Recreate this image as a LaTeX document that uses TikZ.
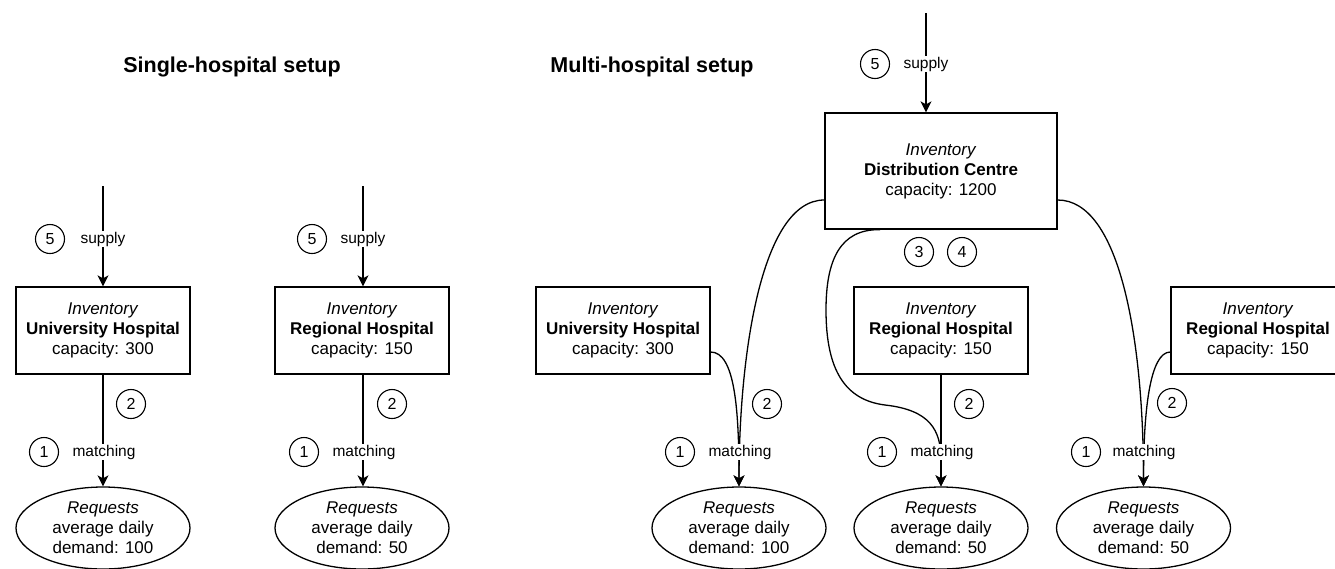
\documentclass[tikz,border=0pt]{standalone}
\usepackage{fontspec}
\setmainfont{Liberation Sans}
\usetikzlibrary{shapes.geometric,arrows.meta}
\begin{document}
\begin{tikzpicture}[x=1pt,y=-1pt,
  box/.style={draw,line width=1.3pt,minimum width=174pt,minimum height=87pt,inner sep=0pt,align=center,font=\fontsize{17}{20}\selectfont},
  req/.style={draw,ellipse,line width=1.3pt,minimum width=174pt,minimum height=82pt,inner sep=0pt,align=center,font=\fontsize{17}{20}\selectfont},
  num/.style={draw,circle,line width=1.1pt,minimum size=29pt,inner sep=0pt,font=\fontsize{16}{18}\selectfont},
  lbl/.style={fill=white,inner sep=1pt,font=\fontsize{15.5}{18}\selectfont},
  ttl/.style={font=\fontsize{21.5}{25}\selectfont\bfseries},
  flow/.style={line width=1.3pt,-{Stealth[length=11pt,width=11pt,inset=3pt]}},
]
\useasboundingbox (0,0) rectangle (1335,568);
\clip (0,0) rectangle (1335,568);

% titles
\node[ttl] (t1) at (232,67) {Single-hospital setup};
\node[ttl] (t2) at (652,67) {Multi-hospital setup};

% single-hospital setup
\node[box] (uh1) at (103,330.5) {\textit{Inventory}\\\textbf{University Hospital}\\capacity: 300};
\node[box] (rh1) at (362,330.5) {\textit{Inventory}\\\textbf{Regional Hospital}\\capacity: 150};
\node[req] (e1) at (103,528) {\textit{Requests}\\average daily\\demand: 100};
\node[req] (e2) at (362,528) {\textit{Requests}\\average daily\\demand: 50};
\coordinate (s1) at (103,186);
\coordinate (s2) at (363,186);
\draw[flow] (s1) -- (s1 |- uh1.north);
\draw[flow] (s2) -- (s2 |- rh1.north);
\draw[flow] (uh1.south) -- (e1.north);
\draw[flow] (s2 |- rh1.south) -- (s2 |- e2.north);

% multi-hospital setup
\node[box,minimum width=232pt,minimum height=116pt] (dc) at (941,171) {\textit{Inventory}\\\textbf{Distribution Centre}\\capacity: 1200};
\node[box] (uh2) at (623,330.5) {\textit{Inventory}\\\textbf{University Hospital}\\capacity: 300};
\node[box] (rh2) at (941,330.5) {\textit{Inventory}\\\textbf{Regional Hospital}\\capacity: 150};
\node[box] (rh3) at (1258,330.5) {\textit{Inventory}\\\textbf{Regional Hospital}\\capacity: 150};
\node[req] (m1) at (739,528) {\textit{Requests}\\average daily\\demand: 100};
\node[req] (m2) at (941,528) {\textit{Requests}\\average daily\\demand: 50};
\node[req] (m3) at (1143.5,528) {\textit{Requests}\\average daily\\demand: 50};
\coordinate (s3) at (926,13);
\draw[flow] (s3) -- (s3 |- dc.north);

\draw[flow] ([yshift=-21.5pt]uh2.east) .. controls (735,352) and (739,410) .. (m1.north);
\draw[flow] ([yshift=-29pt]dc.west) .. controls (760,200) and (739,360) .. (m1.north);
\draw[flow] ([xshift=-61pt]dc.south) .. controls (840,229) and (826,260) .. (826,310)
   .. controls (826,370) and (845,400) .. (885,405)
   .. controls (930,410) and (941,430) .. (941,460) -- (m2.north);
\draw[flow] (rh2.south) -- (m2.north);
\draw[flow] ([yshift=-29pt]dc.east) .. controls (1120,200) and (1143.5,340) .. (m3.north);
\draw[flow] ([yshift=-21.5pt]rh3.west) .. controls (1150,352) and (1143.5,410) .. (m3.north);

% labels
\node[lbl] (sup1) at (103,239) {supply};
\node[lbl] (sup2) at (363,239) {supply};
\node[lbl] (sup3) at (926,64) {supply};
\node[lbl] (mt1) at (104,452) {matching};
\node[lbl] (mt2) at (364,452) {matching};
\node[lbl] (mt3) at (740,452) {matching};
\node[lbl] (mt4) at (942,452) {matching};
\node[lbl] (mt5) at (1144,452) {matching};

% numbers
\node[num] (n5a) at (50,239) {5};
\node[num] (n2a) at (131,404) {2};
\node[num] (n1a) at (44,452) {1};
\node[num] (n5b) at (312,239) {5};
\node[num] (n2b) at (392,404) {2};
\node[num] (n1b) at (304,452) {1};
\node[num] (n5c) at (875,64) {5};
\node[num] (n3) at (919,252) {3};
\node[num] (n4) at (962,252) {4};
\node[num] (n1c) at (680,452) {1};
\node[num] (n2c) at (767,404) {2};
\node[num] (n1d) at (882,452) {1};
\node[num] (n2d) at (969,404) {2};
\node[num] (n1e) at (1086,452) {1};
\node[num] (n2e) at (1172,403) {2};
\end{tikzpicture}
\end{document}
